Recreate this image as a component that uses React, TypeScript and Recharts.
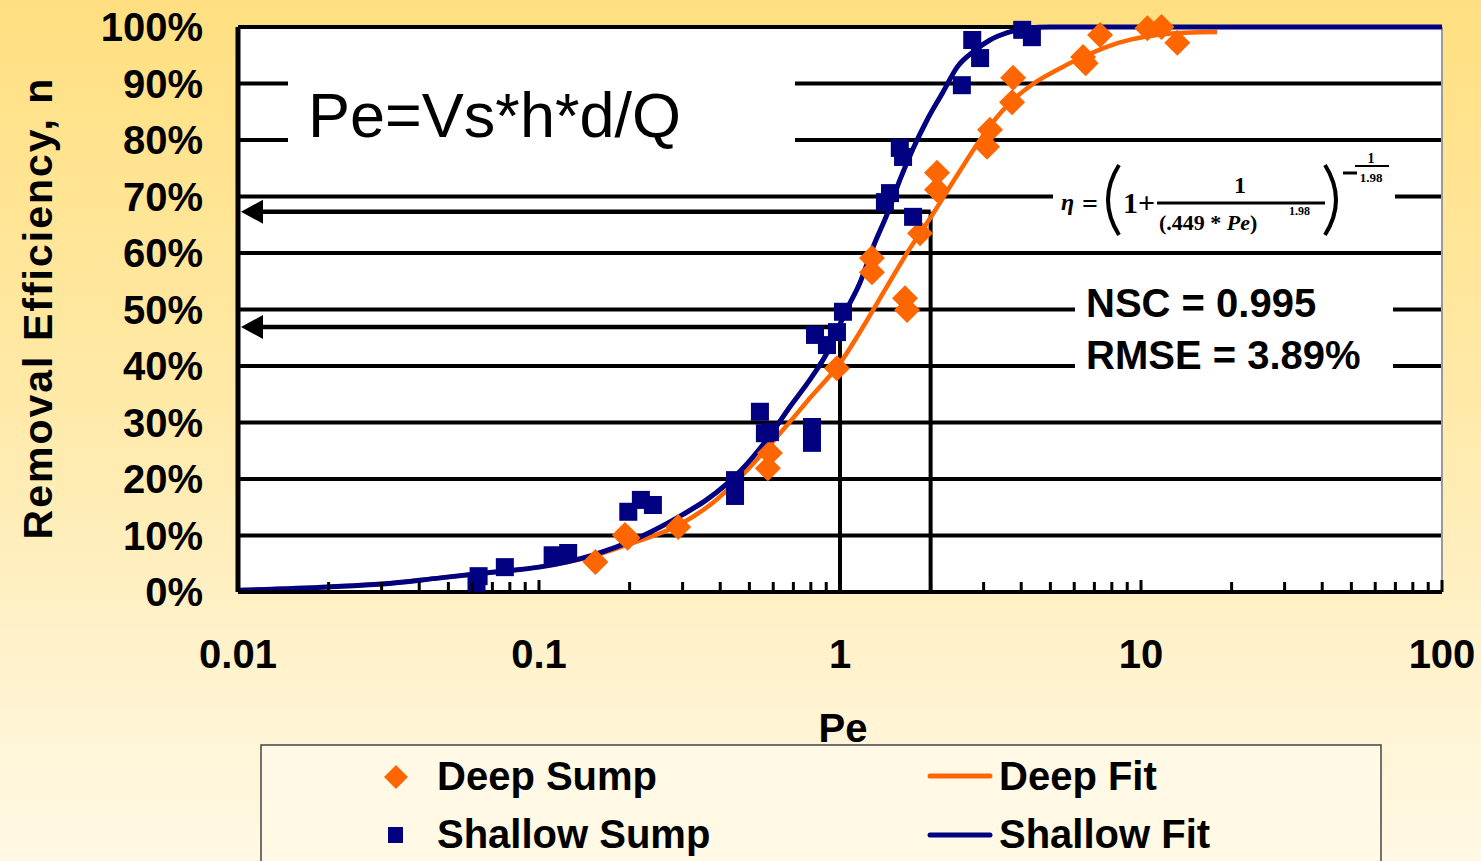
import React from "react";
import {
  ComposedChart, Scatter, Line, XAxis, YAxis, CartesianGrid, ReferenceLine,
} from "recharts";

// measured points
const deepPe = [0.154, 0.193, 0.197, 0.29, 0.576, 0.585, 0.977, 1.277, 1.277, 1.644, 1.67, 1.845, 2.1, 2.1, 3.08, 3.15, 3.73, 3.76, 6.42, 6.55, 7.31, 10.5, 11.7, 13.2];
const deepEff = [5.3, 10.1, 9.6, 11.5, 21.9, 24.6, 39.6, 59.1, 56.6, 52.0, 49.9, 63.5, 74.2, 71.2, 78.8, 81.8, 86.7, 91.0, 94.7, 93.6, 98.6, 99.8, 100, 97.2];

const shallowPe = [0.062, 0.063, 0.077, 0.111, 0.125, 0.198, 0.218, 0.239, 0.448, 0.448, 0.542, 0.563, 0.585, 0.807, 0.807, 0.826, 0.905, 0.977, 1.023, 1.41, 1.466, 1.749, 1.58, 1.62, 2.54, 2.75, 2.92, 4.03, 4.34];
const shallowEff = [1.6, 2.8, 4.4, 6.5, 6.9, 14.2, 16.3, 15.4, 19.8, 17.0, 31.9, 28.1, 28.3, 29.2, 26.4, 45.5, 43.7, 46.0, 49.6, 69.0, 70.6, 66.4, 78.6, 77.0, 89.7, 97.7, 94.5, 99.5, 98.2];

// fitted curves
const deepFitPe = [0.01, 0.02, 0.03, 0.047, 0.07, 0.1, 0.15, 0.2, 0.29, 0.378, 0.5, 0.647, 0.8, 1.0, 1.23, 1.43, 1.67, 2.04, 2.4, 2.77, 3.2, 3.76, 4.4, 5.26, 6.3, 7.7, 9.3, 11.3, 14, 17.9];
const deepFitEff = [0.3, 0.9, 1.4, 2.5, 3.5, 4.4, 6.3, 8.5, 11.8, 15.8, 22, 28.7, 34.5, 40.5, 48.1, 54, 60, 67, 73, 78.2, 83, 87.1, 90, 92.4, 94.5, 96.5, 97.8, 98.6, 99, 99.1];

const shallowFitPe = [0.01, 0.02, 0.03, 0.047, 0.07, 0.1, 0.15, 0.216, 0.3, 0.36, 0.47, 0.6, 0.68, 0.8, 0.905, 1.05, 1.164, 1.287, 1.45, 1.58, 1.75, 1.945, 2.2, 2.45, 2.8, 3.15, 3.6, 4.15, 5, 7, 10, 20, 50, 100];
const shallowFitEff = [0.3, 0.9, 1.4, 2.5, 3.5, 4.4, 6.5, 9.7, 13.7, 16.3, 21.6, 28.5, 32.7, 37.8, 42.3, 49.9, 54.7, 61, 67.5, 72.9, 78.5, 83.5, 88.5, 92.9, 95.8, 97.7, 99, 99.8, 100, 100, 100, 100, 100, 100];

// axes
const xTicks = [0.01, 0.02, 0.03, 0.04, 0.05, 0.06, 0.07, 0.08, 0.09, 0.1, 0.2, 0.3, 0.4, 0.5, 0.6, 0.7, 0.8, 0.9, 1, 2, 3, 4, 5, 6, 7, 8, 9, 10, 20, 30, 40, 50, 60, 70, 80, 90, 100];
const xLabels = [0.01, 0.1, 1, 10, 100];
const yTicks = [0, 10, 20, 30, 40, 50, 60, 70, 80, 90, 100];

// marked Pe values and the efficiencies they read across to
const markPe = [1, 2];
const markEff = [46.9, 67.3];

const zip = (xs: number[], ys: number[]) => xs.map((x, i) => ({ x, y: ys[i] }));
const deepPts = zip(deepPe, deepEff);
const shallowPts = zip(shallowPe, shallowEff);
const deepFit = zip(deepFitPe, deepFitEff);
const shallowFit = zip(shallowFitPe, shallowFitEff);

const ORANGE = "#FF6600";
const NAVY = "#000080";
const FONT = "'Liberation Sans', Arial, sans-serif";
const SERIF = "'Liberation Serif', 'Times New Roman', serif";

const Diamond = (p: any) => {
  const { cx, cy } = p;
  const r = 13;
  return <polygon points={`${cx},${cy - r} ${cx + r},${cy} ${cx},${cy + r} ${cx - r},${cy}`} fill={ORANGE} />;
};

const Square = (p: any) => {
  const { cx, cy } = p;
  return <rect x={cx - 9} y={cy - 9} width={18} height={18} fill={NAVY} />;
};

const XTick = (p: any) => {
  const { x, y, payload } = p;
  const major = xLabels.includes(payload.value);
  return (
    <g>
      <line x1={x} x2={x} y1={y} y2={y - (major ? 12 : 10)} stroke="#000" strokeWidth={3} />
      {major && (
        <text x={x} y={y + 76} textAnchor="middle" fontFamily={FONT} fontWeight="bold" fontSize={40} fill="#000">
          {String(payload.value)}
        </text>
      )}
    </g>
  );
};

const YTick = (p: any) => {
  const { x, y, payload } = p;
  return (
    <text x={x - 35} y={y + 14} textAnchor="end" fontFamily={FONT} fontWeight="bold" fontSize={40} fill="#000">
      {`${payload.value}%`}
    </text>
  );
};

const ArrowShape = (p: any) => {
  const { x1, y1, x2, y2 } = p;
  const left = Math.min(x1, x2);
  const right = Math.max(x1, x2);
  const tip = left + 3;
  return (
    <g>
      <line x1={tip + 20} x2={right} y1={y1} y2={y2} stroke="#000" strokeWidth={4.5} />
      <polygon points={`${tip},${y1} ${tip + 22},${y1 - 12} ${tip + 22},${y1 + 12}`} fill="#000" />
    </g>
  );
};

export default function App() {
  return (
    <div
      style={{
        position: "absolute", left: 0, top: 0, width: 1481, height: 861, overflow: "hidden",
        background: "linear-gradient(180deg, #FFDF80 0%, #FFE9A6 45%, #FFF3D0 80%, #FFF8E4 100%)",
      }}
    >
      <ComposedChart width={1481} height={861} margin={{ top: 27, right: 39, bottom: 209, left: 38 }}>
        <CartesianGrid horizontal vertical={false} stroke="#000" strokeWidth={4} fill="#fff" fillOpacity={1} />
        <XAxis
          dataKey="x" type="number" scale="log" domain={[0.01, 100]} ticks={xTicks} interval={0}
          allowDataOverflow height={60} tickSize={0} tickMargin={0} tick={<XTick />}
          axisLine={{ stroke: "#000", strokeWidth: 4 }} tickLine={false}
        />
        <YAxis
          type="number" domain={[0, 100]} ticks={yTicks} interval={0} width={200}
          tickSize={0} tickMargin={0} tick={<YTick />}
          axisLine={{ stroke: "#000", strokeWidth: 5 }} tickLine={false}
        />
        <ReferenceLine x={100} stroke="#9a9a9a" strokeWidth={2} />
        {markPe.map((pe, i) => (
          <ReferenceLine key={`v${i}`} segment={[{ x: pe, y: 0 }, { x: pe, y: markEff[i] }]} stroke="#000" strokeWidth={4} />
        ))}
        {markPe.map((pe, i) => (
          <ReferenceLine key={`h${i}`} segment={[{ x: 0.01, y: markEff[i] }, { x: pe, y: markEff[i] }]} shape={ArrowShape} />
        ))}
        <Scatter data={deepPts} dataKey="y" shape={Diamond} isAnimationActive={false} />
        <Scatter data={shallowPts} dataKey="y" shape={Square} isAnimationActive={false} />
        <Line data={deepFit} dataKey="y" type="monotone" stroke={ORANGE} strokeWidth={4.5} dot={false} activeDot={false} isAnimationActive={false} />
        <Line data={shallowFit} dataKey="y" type="monotone" stroke={NAVY} strokeWidth={5} dot={false} activeDot={false} isAnimationActive={false} />
      </ComposedChart>

      <svg width={1481} height={861} style={{ position: "absolute", left: 0, top: 0, pointerEvents: "none" }}>
        {/* axis titles */}
        <text transform="translate(52,308) rotate(-90)" textAnchor="middle" fontFamily={FONT} fontWeight="bold" fontSize={41} letterSpacing={2}>
          Removal Efficiency, n
        </text>
        <text x={843} y={742} textAnchor="middle" fontFamily={FONT} fontWeight="bold" fontSize={40}>Pe</text>

        {/* definition box */}
        <rect x={288} y={62} width={507} height={103} fill="#fff" />
        <text x={308} y={137} fontFamily={FONT} fontSize={63}>Pe=Vs*h*d/Q</text>

        {/* equation */}
        <g transform="translate(1053,145)">
          <rect x={0} y={0} width={342} height={98} fill="#fff" />
          <text x={8} y={65} fontFamily={SERIF} fontStyle="italic" fontWeight="bold" fontSize={24}>η</text>
          <text x={29} y={68} fontFamily={SERIF} fontWeight="bold" fontSize={28}>=</text>
          <path d="M 66 20 Q 44 55 66 90" fill="none" stroke="#000" strokeWidth={4} />
          <text x={70} y={68} fontFamily={SERIF} fontWeight="bold" fontSize={30}>1+</text>
          <line x1={104} x2={272} y1={58} y2={58} stroke="#000" strokeWidth={3} />
          <text x={187} y={48} textAnchor="middle" fontFamily={SERIF} fontWeight="bold" fontSize={24}>1</text>
          <text x={106} y={85} fontFamily={SERIF} fontWeight="bold" fontSize={22}>
            (.449 * <tspan fontStyle="italic">Pe</tspan>)
          </text>
          <text x={236} y={70} fontFamily={SERIF} fontWeight="bold" fontSize={12}>1.98</text>
          <path d="M 272 20 Q 294 55 272 90" fill="none" stroke="#000" strokeWidth={4} />
          <line x1={290} x2={304} y1={28} y2={28} stroke="#000" strokeWidth={3} />
          <text x={318} y={18} textAnchor="middle" fontFamily={SERIF} fontWeight="bold" fontSize={14}>1</text>
          <line x1={302} x2={336} y1={21} y2={21} stroke="#000" strokeWidth={2} />
          <text x={318} y={37} textAnchor="middle" fontFamily={SERIF} fontWeight="bold" fontSize={13}>1.98</text>
        </g>

        {/* goodness of fit */}
        <rect x={1075} y={272} width={318} height={120} fill="#fff" />
        <text x={1086} y={317} fontFamily={FONT} fontWeight="bold" fontSize={40}>NSC = 0.995</text>
        <text x={1086} y={369} fontFamily={FONT} fontWeight="bold" fontSize={40}>RMSE = 3.89%</text>

        {/* legend */}
        <rect x={261} y={745} width={1120} height={140} fill="#FFF9E6" stroke="#444" strokeWidth={1.5} />
        <polygon points="396,765 408,777 396,789 384,777" fill={ORANGE} />
        <text x={437} y={790} fontFamily={FONT} fontWeight="bold" fontSize={40}>Deep Sump</text>
        <rect x={388} y={827} width={15} height={16} fill={NAVY} />
        <text x={437} y={848} fontFamily={FONT} fontWeight="bold" fontSize={40}>Shallow Sump</text>
        <line x1={930} x2={990} y1={776} y2={776} stroke={ORANGE} strokeWidth={5} strokeLinecap="round" />
        <text x={999} y={790} fontFamily={FONT} fontWeight="bold" fontSize={40}>Deep Fit</text>
        <line x1={930} x2={990} y1={835} y2={835} stroke={NAVY} strokeWidth={5} strokeLinecap="round" />
        <text x={999} y={848} fontFamily={FONT} fontWeight="bold" fontSize={40}>Shallow Fit</text>
      </svg>
    </div>
  );
}
